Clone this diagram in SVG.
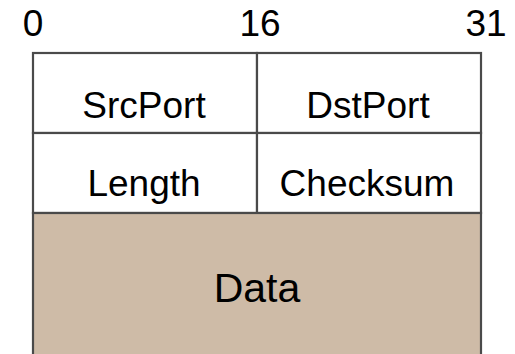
<svg xmlns="http://www.w3.org/2000/svg" width="515" height="354" viewBox="0 0 515 354">
  <style>
    .cell { fill: #ffffff; stroke: #4a4a4a; stroke-width: 2.2; }
    .data { fill: #cebba7; stroke: #4a4a4a; stroke-width: 2.2; }
    .t { font-family: "Liberation Sans", Arial, sans-serif; font-size: 37px; fill: #000; text-anchor: middle; }
    .big { font-size: 41px; }
  </style>
  <rect width="515" height="354" fill="#ffffff"/>
  <g id="bit-labels">
    <text class="t" x="33" y="36">0</text>
    <text class="t" x="260" y="36">16</text>
    <text class="t" x="486" y="36">31</text>
  </g>
  <g id="srcport">
    <rect class="cell" x="33" y="53" width="224" height="80"/>
    <text class="t" x="144" y="118">SrcPort</text>
  </g>
  <g id="dstport">
    <rect class="cell" x="257" y="53" width="224" height="80"/>
    <text class="t" x="368" y="118">DstPort</text>
  </g>
  <g id="length">
    <rect class="cell" x="33" y="133" width="224" height="80"/>
    <text class="t" x="144" y="196">Length</text>
  </g>
  <g id="checksum">
    <rect class="cell" x="257" y="133" width="224" height="80"/>
    <text class="t" x="367" y="196">Checksum</text>
  </g>
  <g id="data">
    <rect class="data" x="33" y="213" width="448" height="160"/>
    <text class="t big" x="257" y="302">Data</text>
  </g>
  <g id="connectors"/>
</svg>
